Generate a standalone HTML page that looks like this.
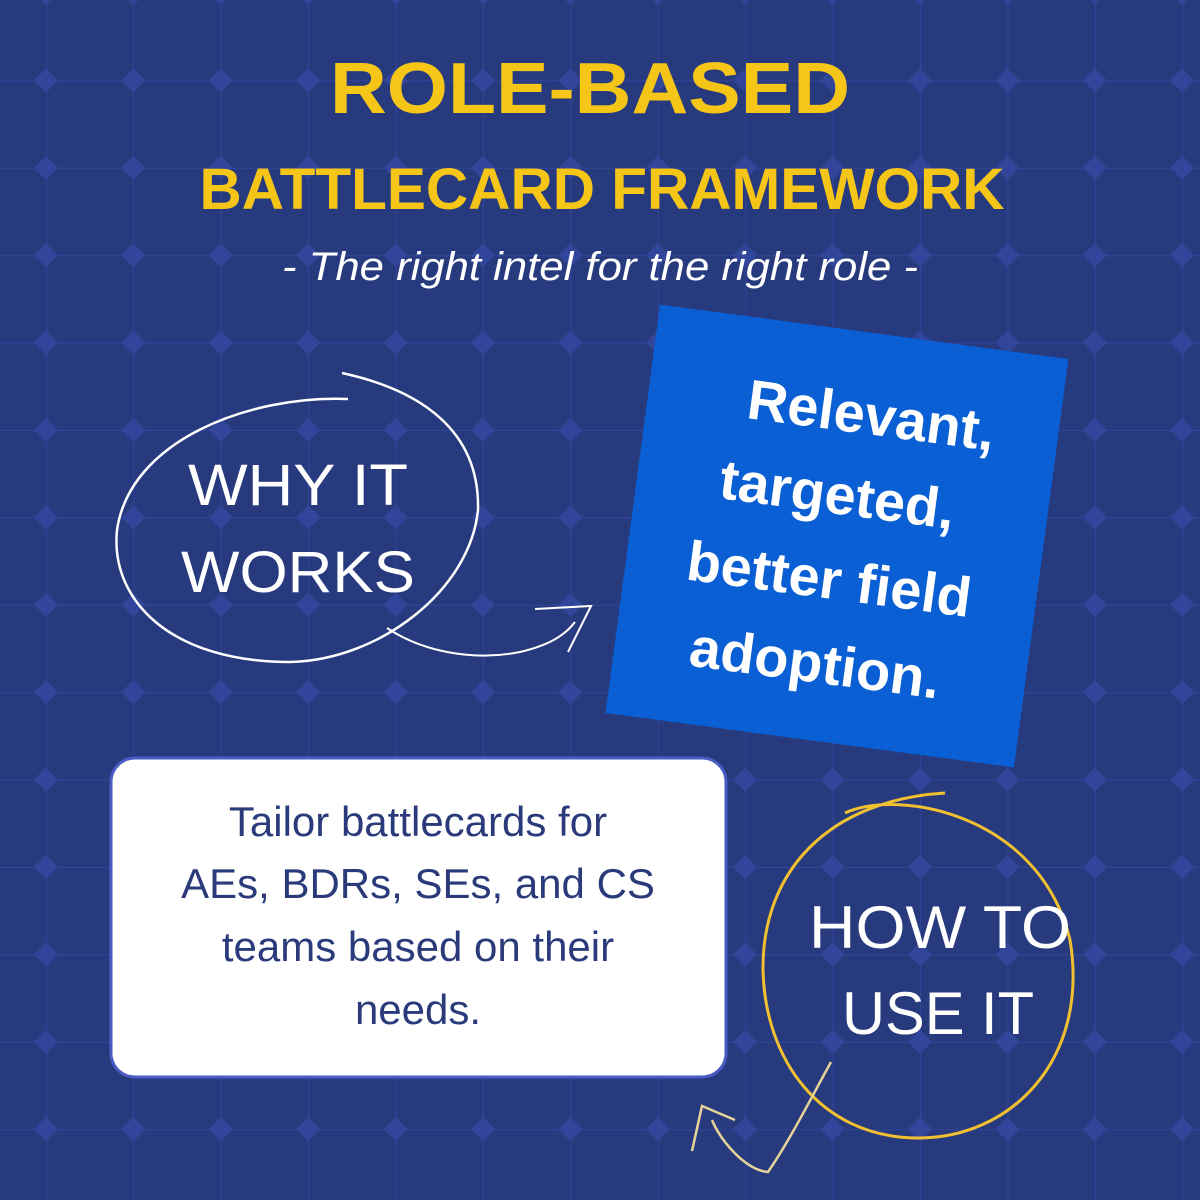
<!DOCTYPE html>
<html><head><meta charset="utf-8"><style>
html,body{margin:0;padding:0;background:#283a7e;}
svg{display:block}
</style></head><body>
<svg width="1200" height="1200" viewBox="0 0 1200 1200" xmlns="http://www.w3.org/2000/svg">
<defs>
<pattern id="g" x="46" y="-7" width="87.4" height="87.4" patternUnits="userSpaceOnUse">
<path d="M0 0H87.4M0 0V87.4" stroke="#31459a" stroke-width="2" fill="none"/>
<path d="M0 -12L12 0L0 12L-12 0Z M87.4 -12L99.4 0L87.4 12L75.4 0Z M0 75.4L12 87.4L0 99.4L-12 87.4Z M87.4 75.4L99.4 87.4L87.4 99.4L75.4 87.4Z" fill="#31459a"/>
</pattern>
</defs>
<rect width="1200" height="1200" fill="#283a7e"/>
<rect width="1200" height="1200" fill="url(#g)"/>

<g font-family="Liberation Sans, sans-serif" text-anchor="middle">
<text x="590" y="113" font-size="72" font-weight="bold" fill="#f5c518" textLength="520" lengthAdjust="spacingAndGlyphs">ROLE-BASED</text>
<text x="602" y="209" font-size="58" font-weight="bold" fill="#f5c518" textLength="805" lengthAdjust="spacingAndGlyphs">BATTLECARD FRAMEWORK</text>
<text x="600" y="280" font-size="40" font-style="italic" fill="#ffffff" textLength="636" lengthAdjust="spacingAndGlyphs">- The right intel for the right role -</text>
</g>

<!-- why it works ellipse -->
<path d="M348 399 C 250 395 130 440 117 530 C 110 600 170 662 290 662 C 380 660 470 590 478 510 C 480 430 420 390 342 373" fill="none" stroke="#ffffff" stroke-width="2.5"/>
<path d="M387 628 C 420 650 470 662 520 652 C 550 645 565 635 575 622" fill="none" stroke="#ffffff" stroke-width="2"/>
<path d="M535 609 L591 606 L568 652" fill="none" stroke="#ffffff" stroke-width="2"/>
<g font-family="Liberation Sans, sans-serif" text-anchor="middle" fill="#ffffff" font-size="58">
<text x="298" y="505" textLength="220" lengthAdjust="spacingAndGlyphs">WHY IT</text>
<text x="298" y="592" textLength="234" lengthAdjust="spacingAndGlyphs">WORKS</text>
</g>

<!-- blue card -->
<g transform="translate(837 536) rotate(7.6)">
<rect x="-206" y="-206" width="412" height="412" fill="#0a5fd4"/>
<g font-family="Liberation Sans, sans-serif" font-weight="bold" fill="#ffffff" font-size="56" text-anchor="middle">
<text x="18" y="-105">Relevant,</text>
<text x="-5" y="-22">targeted,</text>
<text x="-2" y="63">better field</text>
<text x="-5" y="148">adoption.</text>
</g>
</g>

<!-- white box -->
<rect x="111" y="758" width="615" height="319" rx="24" fill="#ffffff" stroke="#4a5bc4" stroke-width="3"/>
<g font-family="Liberation Sans, sans-serif" text-anchor="middle" fill="#2a3a7a" font-size="42">
<text x="418" y="836">Tailor battlecards for</text>
<text x="418" y="898">AEs, BDRs, SEs, and CS</text>
<text x="418" y="961">teams based on their</text>
<text x="418" y="1024">needs.</text>
</g>

<!-- how to use it circle -->
<path d="M845 813 C 900 788 1040 815 1070 940 C 1090 1060 1010 1140 915 1138 C 820 1136 765 1060 763 970 C 762 870 830 800 945 793" fill="none" stroke="#f0c030" stroke-width="3"/>
<path d="M831 1062 C 810 1100 790 1140 768 1172 C 745 1170 720 1140 712 1120" fill="none" stroke="#e6d39a" stroke-width="2.5"/>
<path d="M692 1151 L702 1106 L735 1120" fill="none" stroke="#e6d39a" stroke-width="2.5"/>
<g font-family="Liberation Sans, sans-serif" text-anchor="middle" fill="#ffffff" font-size="60">
<text x="940" y="948" textLength="262" lengthAdjust="spacingAndGlyphs">HOW TO</text>
<text x="938" y="1034" textLength="192" lengthAdjust="spacingAndGlyphs">USE IT</text>
</g>
</svg>
</body></html>
